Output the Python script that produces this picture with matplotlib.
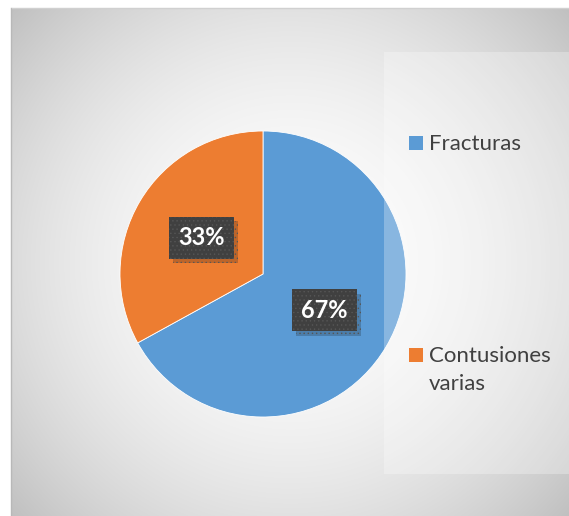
import numpy as np
import matplotlib
matplotlib.use("Agg")
import matplotlib.pyplot as plt
from matplotlib.patches import Rectangle
import matplotlib.patheffects as pe

categories = ["Fracturas", "Contusiones\nvarias"]
values = [67, 33]
colors = ["#5B9BD5", "#ED7D31"]

W, H = 569, 516
fig = plt.figure(figsize=(W / 100, H / 100), dpi=100)
fig.patch.set_facecolor("white")

# background with radial gradient
bg = fig.add_axes([0, 0, 1, 1], zorder=0)
bg.axis("off")
x0, y0 = 12, 8
yy, xx = np.mgrid[y0:H, x0:W]
cx, cy = 290, 262
d2 = (xx - cx) ** 2 + (yy - cy) ** 2
v = np.clip(253 - 4.3e-4 * d2, 180, 255) / 255.0
img = np.dstack([v, v, v])
bg.imshow(img, extent=[x0, W, H, y0], interpolation="bilinear", aspect="auto")
bg.plot([x0 - 0.5, x0 - 0.5], [y0, H], color="#b8b8b8", lw=1.0)
bg.plot([x0, W], [y0 - 0.5, y0 - 0.5], color="#d0d0d0", lw=1.0)
bg.set_xlim(0, W)
bg.set_ylim(H, 0)

# pie
plt.rcParams["hatch.linewidth"] = 0.5
pcx, pcy, r = 263, 274, 143
ax = fig.add_axes([(pcx - r) / W, (H - pcy - r) / H, 2 * r / W, 2 * r / H], zorder=1)
wedges, texts, autotexts = ax.pie(
    values, colors=colors, startangle=90, counterclock=False,
    autopct=lambda p: f"{p:.0f}%", pctdistance=0.5,
    wedgeprops=dict(edgecolor="white", linewidth=0.6),
    textprops=dict(color="white", fontsize=17, fontweight="bold", family="Lato"),
)
ax.set_xlim(-1, 1)
ax.set_ylim(-1, 1)
ax.set_aspect("equal")
for t in autotexts:
    t.set_bbox(dict(boxstyle="square,pad=0.4", facecolor="#404040", edgecolor="#565656",
                    hatch="....", linewidth=0))
    t.get_bbox_patch().set_path_effects([pe.SimplePatchShadow(offset=(3, -3), alpha=0.22), pe.Normal()])

# overlay: legend panel
ov = fig.add_axes([0, 0, 1, 1], zorder=2)
ov.set_xlim(0, W)
ov.set_ylim(H, 0)
ov.axis("off")
ov.patch.set_alpha(0)
ov.add_patch(Rectangle((384, 52), W - 384, 474 - 52, facecolor="white", alpha=0.28, lw=0))

# legend entries
leg_x, leg_y0, leg_step = 409, 143, 212
for i, (cat, col) in enumerate(zip(categories, colors)):
    y = leg_y0 + i * leg_step
    ov.add_patch(Rectangle((leg_x, y - 7), 14, 14, facecolor=col, lw=0))
    ov.text(leg_x + 20, y - 9, cat, ha="left", va="top", color="#404040",
            fontsize=16, family="Lato", linespacing=1.5)

fig.savefig("out.png", dpi=100)
